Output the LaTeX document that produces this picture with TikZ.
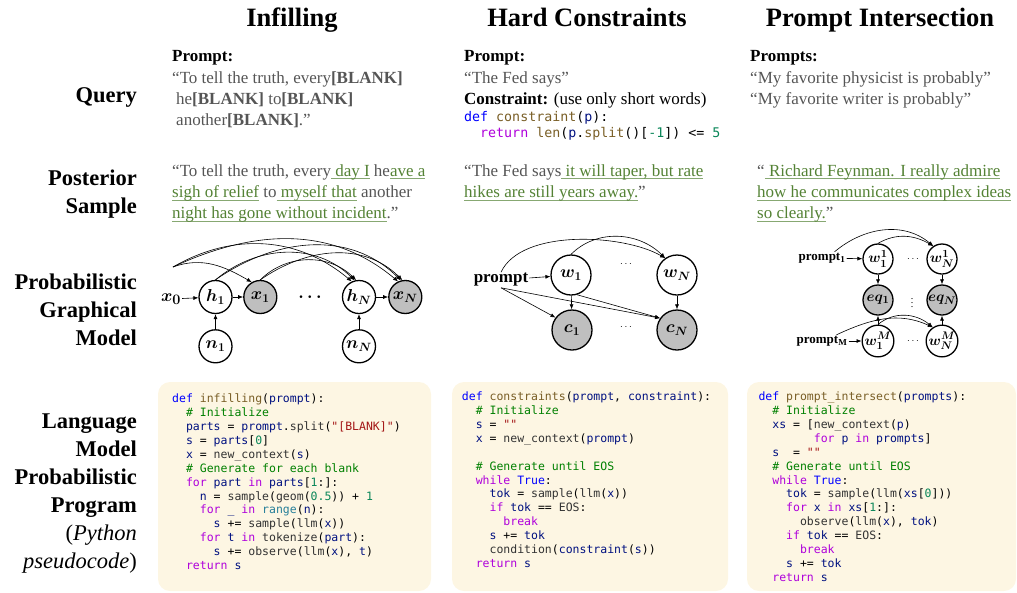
\documentclass[tikz,border=0pt]{standalone}
\usepackage{fontspec}
\setmainfont{Liberation Serif}
\setmonofont{DejaVu Sans Mono}
\usetikzlibrary{arrows.meta,positioning}

\definecolor{qgray}{HTML}{555555}
\definecolor{gengreen}{HTML}{548235}
\definecolor{codebg}{HTML}{FDF6E3}
\definecolor{ckw}{HTML}{AF00DB}
\definecolor{cdef}{HTML}{0000FF}
\definecolor{cfn}{HTML}{795E26}
\definecolor{cvar}{HTML}{001080}
\definecolor{ccom}{HTML}{008000}
\definecolor{cstr}{HTML}{A31515}
\definecolor{cnum}{HTML}{098658}
\definecolor{cbi}{HTML}{267F99}
\definecolor{ccall}{HTML}{333333}
\definecolor{obsfill}{HTML}{BFBFBF}

% code colouring
\newcommand{\cKw}[1]{\textcolor{ckw}{#1}}
\newcommand{\cDf}[1]{\textcolor{cdef}{#1}}
\newcommand{\cFn}[1]{\textcolor{cfn}{#1}}
\newcommand{\cVr}[1]{\textcolor{cvar}{#1}}
\newcommand{\cCm}[1]{\textcolor{ccom}{#1}}
\newcommand{\cSt}[1]{\textcolor{cstr}{#1}}
\newcommand{\cNm}[1]{\textcolor{cnum}{#1}}
\newcommand{\cBi}[1]{\textcolor{cbi}{#1}}
\newcommand{\cCl}[1]{\textcolor{ccall}{#1}}
% generated text (underlined) and blanks
\newcommand{\gen}[1]{\setbox0\hbox{\textcolor{gengreen}{#1}}%
  \rlap{\textcolor{gengreen!70}{\rule[-3pt]{\wd0}{0.9pt}}}\box0\relax}
\newcommand{\blank}{\textbf{[BLANK]}}

\begin{document}
\begin{tikzpicture}[x=1pt,y=1pt,
  ttl/.style={font=\fontsize{26.5}{30}\selectfont\bfseries, anchor=base},
  rowlabel/.style={font=\fontsize{22.5}{28}\selectfont\bfseries, align=right, anchor=east, inner sep=0pt},
  bodytxt/.style={font=\fontsize{17}{21.3}\selectfont, align=left, anchor=north west, inner sep=0pt, text=qgray},
  codetxt/.style={font=\ttfamily\fontsize{11.5}{13.9}\selectfont, align=left, anchor=north west, inner sep=0pt},
  codebox/.style={fill=codebg, rounded corners=12pt},
  pgm/.style={circle, draw, line width=1.3pt, inner sep=0pt, font=\fontsize{18}{18}\selectfont\boldmath},
  obs/.style={pgm, fill=obsfill},
  small/.style={font=\fontsize{15}{15}\selectfont\boldmath},
  arr/.style={-{Latex[length=5pt,width=4pt]}, line width=0.6pt},
  lbl/.style={inner sep=1pt, font=\fontsize{17}{17}\selectfont\bfseries}]

  \useasboundingbox (0,0) rectangle (1017,-592);

  % column titles
  \node[ttl] (tinf) at (292,-26) {Infilling};
  \node[ttl] (thc) at (587,-26) {Hard Constraints};
  \node[ttl] (tpi) at (880,-26) {Prompt Intersection};

  % row labels
  \node[rowlabel] (rq) at (137,-97) {Query};
  \node[rowlabel] (rps) at (137,-194) {Posterior\\Sample};
  \node[rowlabel] (rpgm) at (137,-310) {Probabilistic\\Graphical\\Model};
  \node[rowlabel] (rlmpp) at (137,-493.5) {Language\\Model\\Probabilistic\\Program\\{\mdseries(\textit{Python}}\\{\mdseries\textit{pseudocode})}};

  % query row
  \node[bodytxt] (qinf) at (172,-50.6) {\textcolor{black}{\textbf{Prompt:}}\\
    “To tell the truth, every\blank\\
    \hspace*{4pt}he\blank{} to\blank\\
    \hspace*{4pt}another\blank.”};
  \node[bodytxt] (qhc) at (464,-50.6) {\textcolor{black}{\textbf{Prompt:}}\\
    “The Fed says”\\
    \textcolor{black}{\textbf{Constraint:} (use only short words)}};
  \node[codetxt, font=\ttfamily\fontsize{13.3}{16}\selectfont] (qcode) at (464,-111.5) {\cDf{def} \cFn{constraint}(\cVr{p}):\\
    ~~\cKw{return} \cFn{len}(\cVr{p}.\cFn{split}()[\cNm{-1}]) <= \cNm{5}};
  \node[bodytxt] (qpi) at (750,-50.6) {\textcolor{black}{\textbf{Prompts:}}\\
    “My favorite physicist is probably”\\
    “My favorite writer is probably”};

  % posterior samples
  \node[bodytxt] (pinf) at (172,-164.3) {“To tell the truth, every\gen{\ day I} he\gen{ave a}\\
    \gen{sigh of relief} to\gen{\ myself that} another\\
    \gen{night has gone without incident}."};
  \node[bodytxt] (phc) at (464,-164.3) {“The Fed says\gen{\ it will taper, but rate}\\
    \gen{hikes are still years away.}”};
  \node[bodytxt] (ppi) at (757,-164.3) {“\gen{\ Richard Feynman. I really admire}\\
    \gen{how he communicates complex ideas}\\
    \gen{so clearly.}”};

  % graphical model: infilling
  \node[pgm, minimum size=33pt] (h1) at (215.5,-297) {$h_1$};
  \node[obs, minimum size=33pt, right=10.5pt of h1] (x1) {$x_1$};
  \node[pgm, minimum size=33pt] (hN) at (359,-297) {$h_N$};
  \node[obs, minimum size=33pt, right=12pt of hN] (xN) {$x_N$};
  \node[pgm, minimum size=33pt, below=15pt of h1] (n1) {$n_1$};
  \node[pgm, minimum size=33pt, below=15pt of hN] (nN) {$n_N$};
  \node[inner sep=1pt, font=\fontsize{19}{19}\selectfont\boldmath] (x0) at (171,-299) {$x_0$};
  \node[font=\fontsize{18}{18}\selectfont\boldmath] (dinf) at (310,-297) {$\cdots$};
  \coordinate (x0t) at (173,-267);
  \draw[arr] (x0) -- (h1);
  \draw[arr] (h1) -- (x1);
  \draw[arr] (hN) -- (xN);
  \draw[arr] (n1) -- (h1);
  \draw[arr] (nN) -- (hN);
  \draw[arr] (x0t) to[out=20,in=150] (x1.120);
  \draw[arr] (x0t) to[out=30,in=140] (hN.115);
  \draw[arr] (x0t) to[out=25,in=140] (xN.115);
  \draw[arr] (h1.north) to[out=40,in=135] (hN.105);
  \draw[arr] (h1.north) to[out=35,in=135] (xN.105);
  \draw[arr] (x1.north) to[out=45,in=135] (hN.100);
  \draw[arr] (x1.north) to[out=35,in=135] (xN.100);

  % graphical model: hard constraints
  \node[pgm, minimum size=40pt] (w1) at (571,-275) {$w_1$};
  \node[pgm, minimum size=40pt] (wN) at (677,-275) {$w_N$};
  \node[obs, minimum size=40pt] (c1) at (572,-330) {$c_1$};
  \node[obs, minimum size=40pt] (cN) at (677,-330) {$c_N$};
  \node[lbl] (prm) at (501,-280) {prompt};
  \node (dw) at (626,-264) {$\cdots$};
  \node (dc) at (626,-327) {$\cdots$};
  \draw[arr] (prm) -- (w1);
  \draw[arr] (prm.south) -- (c1.143);
  \draw[arr] (prm.south) -- (cN.145);
  \draw[arr] (w1) -- (c1);
  \draw[arr] (w1.287) -- (cN.145);
  \draw[arr] (wN) -- (cN);
  \draw[arr] (prm.north) to[out=65,in=150,looseness=0.75] (wN.125);
  \draw[arr] (w1.north) to[out=45,in=135] (wN.125);

  % graphical model: prompt intersection
  \node[pgm, small, minimum size=30pt] (w11) at (878,-259) {$w_1^1$};
  \node[pgm, small, minimum size=30pt] (w1N) at (942,-259) {$w_N^1$};
  \node[obs, small, minimum size=30pt] (eq1) at (878,-300) {$eq_1$};
  \node[obs, small, minimum size=30pt] (eqN) at (942,-300) {$eq_N$};
  \node[pgm, small, minimum size=30pt] (wM1) at (878,-341) {$w_1^M$};
  \node[pgm, small, minimum size=30pt] (wMN) at (942,-341) {$w_N^M$};
  \node[lbl, font=\fontsize{13}{13}\selectfont\bfseries] (p1) at (822,-258) {prompt$_{\mathbf{1}}$};
  \node[lbl, font=\fontsize{13}{13}\selectfont\bfseries] (pM) at (822,-341) {prompt$_{\mathbf{M}}$};
  \node (dpa) at (913,-259) {$\cdots$};
  \node (dpb) at (913,-341) {$\cdots$};
  \node (dpv) at (912,-300) {$\vdots$};
  \draw[arr] (p1) -- (w11);
  \draw[arr] ([xshift=-12pt]p1.north east) to[out=40,in=140] (w1N.124);
  \draw[arr] (w11.north) to[out=30,in=150] (w1N.124);
  \draw[arr] (w11) -- (eq1);
  \draw[arr] (w1N) -- (eqN);
  \draw[arr] (wM1) -- (eq1);
  \draw[arr] (wMN) -- (eqN);
  \draw[arr] (pM) -- (wM1);
  \draw[arr] ([xshift=-12pt]pM.north east) to[out=25,in=155] (wMN.124);
  \draw[arr] (wM1.north) to[out=40,in=140] (wMN.124);

  % programs
  \fill[codebox] (158,-382) rectangle (431,-591);
  \fill[codebox] (452,-382) rectangle (728,-591);
  \fill[codebox] (747,-382) rectangle (1016,-591);

  \node[codetxt] (codeinf) at (172,-393.7) {\cDf{def} \cFn{infilling}(\cVr{prompt}):\\
    ~~\cCm{\# Initialize}\\
    ~~\cVr{parts} = \cVr{prompt}.\cCl{split}(\cSt{"[BLANK]"})\\
    ~~\cVr{s} = \cVr{parts}[\cNm{0}]\\
    ~~\cVr{x} = \cCl{new\_context}(\cVr{s})\\
    ~~\cCm{\# Generate for each blank}\\
    ~~\cKw{for} \cVr{part} \cKw{in} \cVr{parts}[\cNm{1}:]:\\
    ~~~~\cVr{n} = \cCl{sample}(\cCl{geom}(\cNm{0.5})) + \cNm{1}\\
    ~~~~\cKw{for} \cVr{\_} \cKw{in} \cBi{range}(\cVr{n}):\\
    ~~~~~~\cVr{s} += \cCl{sample}(\cCl{llm}(\cVr{x}))\\
    ~~~~\cKw{for} \cVr{t} \cKw{in} \cCl{tokenize}(\cVr{part}):\\
    ~~~~~~\cVr{s} += \cCl{observe}(\cCl{llm}(\cVr{x}), \cVr{t})\\
    ~~\cKw{return} \cVr{s}};

  \node[codetxt] (codehc) at (461.7,-391.7) {\cDf{def} \cFn{constraints}(\cVr{prompt}, \cVr{constraint}):\\
    ~~\cCm{\# Initialize}\\
    ~~\cVr{s} = \cSt{""}\\
    ~~\cVr{x} = \cCl{new\_context}(\cVr{prompt})\\
    \mbox{}\\
    ~~\cCm{\# Generate until EOS}\\
    ~~\cKw{while} \cDf{True}:\\
    ~~~~\cVr{tok} = \cCl{sample}(\cCl{llm}(\cVr{x}))\\
    ~~~~\cKw{if} \cVr{tok} == \cCl{EOS}:\\
    ~~~~~~\cKw{break}\\
    ~~~~\cVr{s} += \cVr{tok}\\
    ~~~~\cCl{condition}(\cVr{constraint}(\cVr{s}))\\
    ~~\cKw{return} \cVr{s}};

  \node[codetxt] (codepi) at (758.3,-391.7) {\cDf{def} \cFn{prompt\_intersect}(\cVr{prompts}):\\
    ~~\cCm{\# Initialize}\\
    ~~\cVr{xs} = [\cCl{new\_context}(\cVr{p})\\
    ~~~~~~~~\cKw{for} \cVr{p} \cKw{in} \cVr{prompts}]\\
    ~~\cVr{s}~~= \cSt{""}\\
    ~~\cCm{\# Generate until EOS}\\
    ~~\cKw{while} \cDf{True}:\\
    ~~~~\cVr{tok} = \cCl{sample}(\cCl{llm}(\cVr{xs}[\cNm{0}]))\\
    ~~~~\cKw{for} \cVr{x} \cKw{in} \cVr{xs}[\cNm{1}:]:\\
    ~~~~~~\cCl{observe}(\cCl{llm}(\cVr{x}), \cVr{tok})\\
    ~~~~\cKw{if} \cVr{tok} == \cCl{EOS}:\\
    ~~~~~~\cKw{break}\\
    ~~~~\cVr{s} += \cVr{tok}\\
    ~~\cKw{return} \cVr{s}};
\end{tikzpicture}
\end{document}
